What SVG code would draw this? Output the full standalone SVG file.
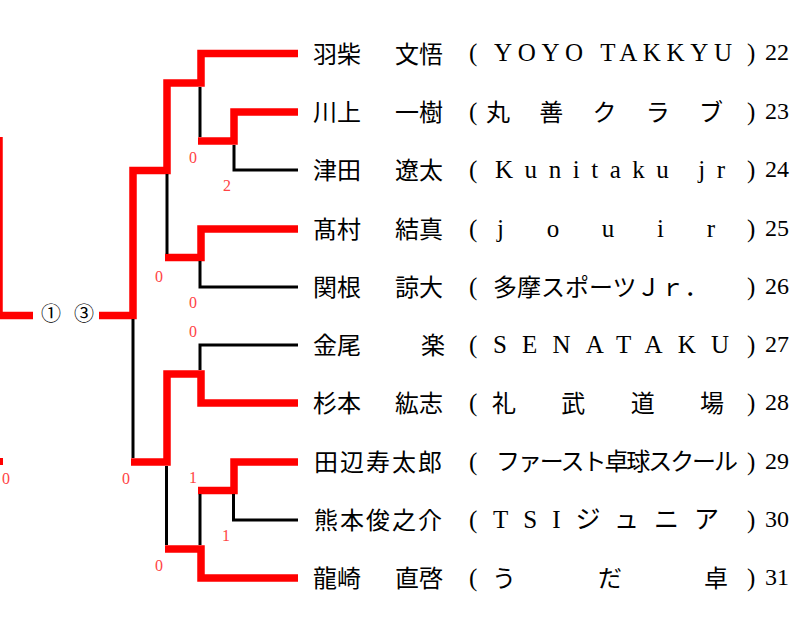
<svg xmlns="http://www.w3.org/2000/svg" width="799" height="629" viewBox="0 0 799 629">
<style>
.t{font-family:"Liberation Serif","Noto Sans CJK JP",serif;font-size:25px;fill:#000}
.j{font-family:"Noto Sans CJK JP",sans-serif;font-size:24px;fill:#000}
.num{font-family:"Liberation Serif",serif;font-size:24px;fill:#000}
.r{stroke:#ff0000;stroke-width:7.5;fill:none;stroke-linejoin:miter}
.b{stroke:#000;stroke-width:3;fill:none}
.s{font-family:"Liberation Serif",serif;font-size:16px;fill:#ff4444;text-anchor:middle}
.c{font-family:"Noto Sans CJK JP",sans-serif;font-size:20px;fill:#000;text-anchor:middle}
</style>
<g id="connectors">
<path class="r" d="M-1,137 V315.5 H33"/>
<rect x="0" y="458" width="3" height="7" fill="#ff0000"/>
<path class="r" d="M298,53.5 H201 V83 H167 V170.5 H133 V315.5 H99"/>
<path class="r" d="M198,141 H234 V112 H298"/>
<path class="r" d="M165,257.5 H201 V229 H298"/>
<path class="r" d="M131,462 H167 V374 H201 V403 H298"/>
<path class="r" d="M165,549 H201 V578 H298"/>
<path class="r" d="M198,490.5 H234 V462 H298"/>
<path class="b" d="M200,87 V137"/>
<path class="b" d="M234,145 V170 H298"/>
<path class="b" d="M167,174 V254"/>
<path class="b" d="M200,261 V287 H298"/>
<path class="b" d="M133,319 V458"/>
<path class="b" d="M200,370 V345 H298"/>
<path class="b" d="M166.5,466 V545"/>
<path class="b" d="M200,494 V545"/>
<path class="b" d="M233.5,494 V520 H298"/>
</g>
<g id="scores">
<text class="s" x="193" y="162.5">0</text>
<text class="s" x="227" y="190.5">2</text>
<text class="s" x="159" y="281.5">0</text>
<text class="s" x="193" y="307.5">0</text>
<text class="s" x="193" y="336.5">0</text>
<text class="s" x="126" y="483.5">0</text>
<text class="s" x="193" y="482.5">1</text>
<text class="s" x="226" y="540.5">1</text>
<text class="s" x="159" y="570.5">0</text>
<text class="s" x="6" y="483.5">0</text>
</g>
<g id="final">
<text class="c" x="51" y="321">①</text>
<text class="c" x="84" y="321">③</text>
</g>
<g id="p22">
<text class="j" x="313" y="62.5">羽柴</text><text class="j" x="395" y="62.5">文悟</text>
<text class="t" x="469" y="61">(</text>
<text class="t" x="494" y="61" font-size="24" textLength="238" lengthAdjust="spacing">YOYO TAKKYU</text>
<text class="t" x="747" y="61">)</text><text class="num" x="765" y="60">22</text>
</g>
<g id="p23">
<text class="j" x="313" y="121">川上</text><text class="j" x="395" y="121">一樹</text>
<text class="t" x="469" y="119.5">(</text>
<text class="j" x="486" y="121" textLength="237" lengthAdjust="spacing">丸善クラブ</text>
<text class="t" x="747" y="119.5">)</text><text class="num" x="765" y="118.5">23</text>
</g>
<g id="p24">
<text class="j" x="313" y="179">津田</text><text class="j" x="395" y="179">遼太</text>
<text class="t" x="469" y="177.5">(</text>
<text class="t" x="495" y="177.5" font-size="24" textLength="230" lengthAdjust="spacing">Kunitaku jr</text>
<text class="t" x="747" y="177.5">)</text><text class="num" x="765" y="176.5">24</text>
</g>
<g id="p25">
<text class="j" x="313" y="238">髙村</text><text class="j" x="395" y="238">結真</text>
<text class="t" x="469" y="236.5">(</text>
<text class="t" x="497" y="236.5" font-size="24" textLength="218" lengthAdjust="spacing">jouir</text>
<text class="t" x="747" y="236.5">)</text><text class="num" x="765" y="235.5">25</text>
</g>
<g id="p26">
<text class="j" x="313" y="296">関根</text><text class="j" x="395" y="296">諒大</text>
<text class="t" x="469" y="294.5">(</text>
<text class="j" x="493" y="296">多摩スポーツＪｒ．</text>
<text class="t" x="747" y="294.5">)</text><text class="num" x="765" y="293.5">26</text>
</g>
<g id="p27">
<text class="j" x="313" y="354">金尾</text><text class="j" x="421" y="354">楽</text>
<text class="t" x="469" y="352.5">(</text>
<text class="t" x="493" y="352.5" font-size="24" textLength="236" lengthAdjust="spacing">SENATAKU</text>
<text class="t" x="747" y="352.5">)</text><text class="num" x="765" y="351.5">27</text>
</g>
<g id="p28">
<text class="j" x="313" y="412">杉本</text><text class="j" x="395" y="412">紘志</text>
<text class="t" x="469" y="410.5">(</text>
<text class="j" x="492" y="412" textLength="232" lengthAdjust="spacing">礼武道場</text>
<text class="t" x="747" y="410.5">)</text><text class="num" x="765" y="409.5">28</text>
</g>
<g id="p29">
<text class="j" x="314" y="471" textLength="128" lengthAdjust="spacing">田辺寿太郎</text>
<text class="t" x="469" y="469.5">(</text>
<text class="j" x="496" y="470" font-size="21" textLength="242" lengthAdjust="spacing">ファースト卓球スクール</text>
<text class="t" x="747" y="469.5">)</text><text class="num" x="765" y="468.5">29</text>
</g>
<g id="p30">
<text class="j" x="314" y="529" textLength="128" lengthAdjust="spacing">熊本俊之介</text>
<text class="t" x="469" y="527.5">(</text>
<text class="t" x="493" y="528" textLength="226" lengthAdjust="spacing">TSIジュニア</text>
<text class="t" x="747" y="527.5">)</text><text class="num" x="765" y="526.5">30</text>
</g>
<g id="p31">
<text class="j" x="313" y="587">龍崎</text><text class="j" x="395" y="587">直啓</text>
<text class="t" x="469" y="585.5">(</text>
<text class="j" x="492" y="587" textLength="236" lengthAdjust="spacing">うだ卓</text>
<text class="t" x="747" y="585.5">)</text><text class="num" x="765" y="584.5">31</text>
</g>
</svg>
